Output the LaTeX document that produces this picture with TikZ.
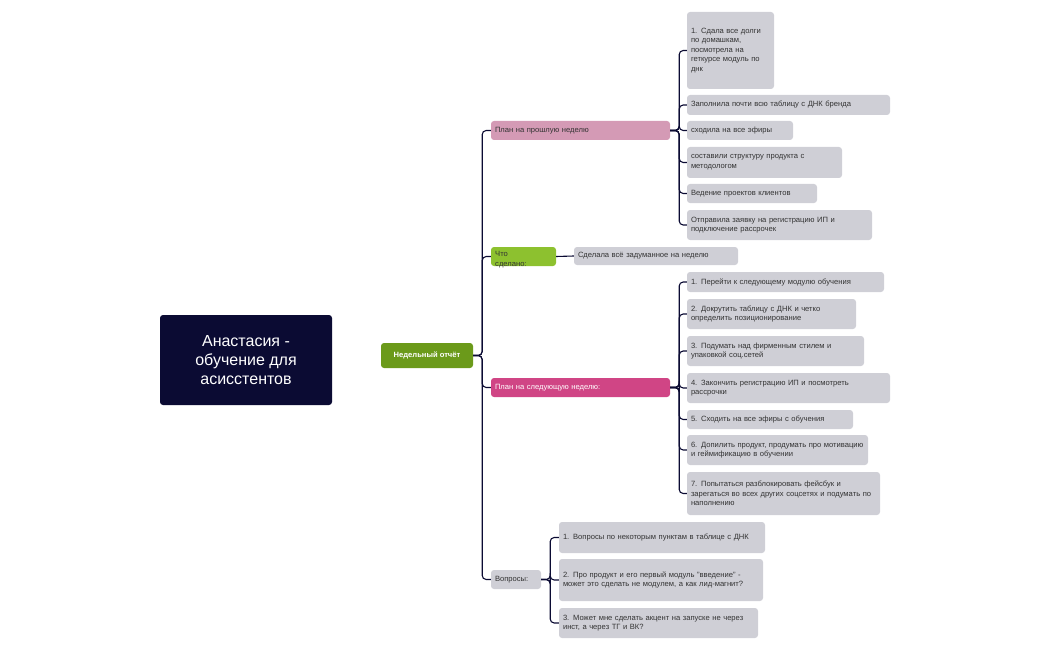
\documentclass[tikz,border=0pt]{standalone}
\usepackage{fontspec}
\setmainfont{Liberation Sans}
\definecolor{navy}{HTML}{0B0B33}
\definecolor{gw}{HTML}{6B9A1A}
\definecolor{pk}{HTML}{D49AB5}
\definecolor{lg}{HTML}{8DC12F}
\definecolor{mg}{HTML}{D04585}
\definecolor{leafc}{HTML}{CFCFD6}
\begin{document}
\begin{tikzpicture}[x=1pt,y=-1pt,
  box/.style={rounded corners=3pt,inner sep=0pt,font=\fontsize{7.6}{9.6}\selectfont,text=black!80},
  leaf/.style={box,fill=leafc},
  con/.style={draw=navy,line width=1.1pt,rounded corners=4pt}]
\newcommand\bx[7]{\node[#6,minimum width=#4-#2,minimum height=#5-#3,text width=#4-#2-8,align=left] (#1) at ({(#2+#4)/2},{(#3+#5)/2}) {#7};}
\path[use as bounding box] (0,0) rectangle (1050,650);
\node[fill=navy,rounded corners=3pt,minimum width=172,minimum height=90,text=white,align=center,font=\fontsize{16}{19}\selectfont] (root) at (246,360) {Анастасия -\\обучение для\\асисстентов};
\node[box,fill=gw,text=white,minimum width=92,minimum height=25,font=\fontsize{7.6}{9}\selectfont\bfseries] (w) at (427,355.5) {Недельный отчёт};
\bx{p}{491}{121}{670}{140}{box,fill=pk}{План на прошлую неделю}
\node[box,fill=lg,minimum width=65,minimum height=19] (d) at (523.5,256.5) {};
\node[box,anchor=north west,align=left] (dt) at (495,251) {Что\\сделано:};
\bx{d1}{574}{247}{738}{265}{leaf}{Сделала всё задуманное на неделю}
\bx{n}{491}{378}{670}{397}{box,fill=mg,text=white}{План на следующую неделю:}
\bx{q}{491}{570}{541}{589}{leaf}{Вопросы:}
\bx{p1}{687}{12}{774}{89}{leaf}{1. Сдала все долги по домашкам, посмотрела на геткурсе модуль по днк}
\bx{p2}{687}{95}{890}{115}{leaf}{Заполнила почти всю таблицу с ДНК бренда}
\bx{p3}{687}{121}{793}{140}{leaf}{сходила на все эфиры}
\bx{p4}{687}{147}{842}{178}{leaf}{составили структуру продукта с методологом}
\bx{p5}{687}{184}{817}{203}{leaf}{Ведение проектов клиентов}
\bx{p6}{687}{210}{872}{240}{leaf}{Отправила заявку на регистрацию ИП и подключение рассрочек}
\bx{n1}{687}{272}{884}{292}{leaf}{1. Перейти к следующему модулю обучения}
\bx{n2}{687}{299}{856}{329}{leaf}{2. Докрутить таблицу с ДНК и четко определить позиционирование}
\bx{n3}{687}{336}{864}{366}{leaf}{3. Подумать над фирменным стилем и упаковкой соц.сетей}
\bx{n4}{687}{373}{890}{403}{leaf}{4. Закончить регистрацию ИП и посмотреть рассрочки}
\bx{n5}{687}{410}{853}{429}{leaf}{5. Сходить на все эфиры с обучения}
\bx{n6}{687}{435}{868}{465}{leaf}{6. Допилить продукт, продумать про мотивацию и геймификацию в обучении}
\bx{n7}{687}{472}{880}{515}{leaf}{7. Попытаться разблокировать фейсбук и зарегаться во всех других соцсетях и подумать по наполнению}
\bx{q1}{559}{522}{765}{553}{leaf}{1. Вопросы по некоторым пунктам в таблице с ДНК}
\bx{q2}{559}{559}{763}{601}{leaf}{2. Про продукт и его первый модуль "введение" - может это сделать не модулем, а как лид-магнит?}
\bx{q3}{559}{608}{758}{638}{leaf}{3. Может мне сделать акцент на запуске не через инст, а через ТГ и ВК?}
\foreach \c in {p,d,n,q} \draw[con] (w.east) -- ++(9,0) |- (\c.west);
\foreach \c in {p1,p2,p3,p4,p5,p6} \draw[con] (p.east) -- ++(9,0) |- (\c.west);
\foreach \c in {n1,n2,n3,n4,n5,n6,n7} \draw[con] (n.east) -- ++(9,0) |- (\c.west);
\foreach \c in {q1,q2,q3} \draw[con] (q.east) -- ++(9,0) |- (\c.west);
\draw[con] (d.east) -- (d1.west);
\end{tikzpicture}
\end{document}
